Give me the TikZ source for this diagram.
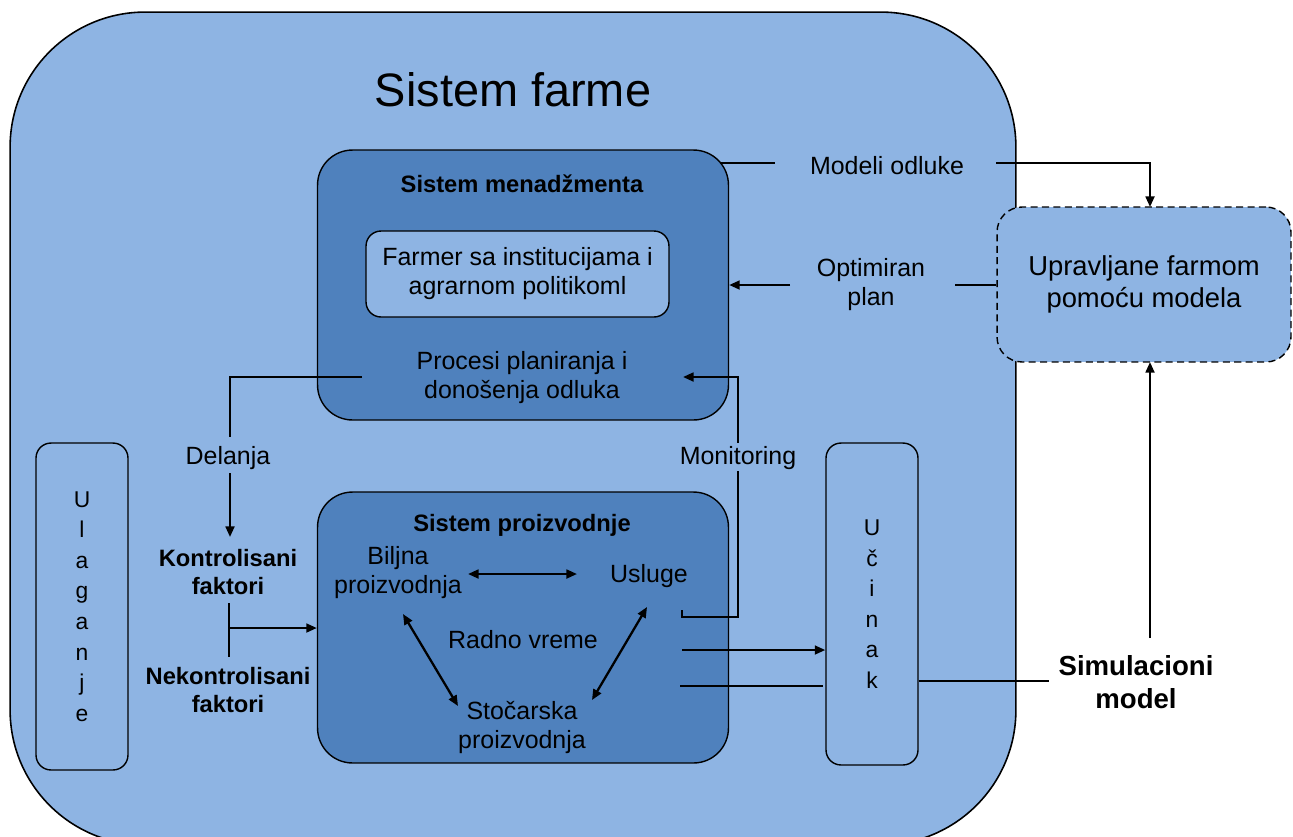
\documentclass[tikz,border=0pt]{standalone}
\usepackage{fontspec}
\setmainfont{Liberation Sans}
\usetikzlibrary{arrows.meta}
\definecolor{lightfill}{HTML}{8EB4E3}
\definecolor{darkfill}{HTML}{4F81BD}
\tikzset{
 outerbox/.style={draw=black, line width=0.9pt, fill=lightfill, rounded corners=2.7cm, minimum width=20.12cm, minimum height=16.66cm, inner sep=0pt},
 darkbox/.style={draw=black, line width=0.8pt, fill=darkfill, rounded corners=0.7cm, minimum width=8.22cm, minimum height=5.42cm, inner sep=0pt},
 lightbox/.style={draw=black, line width=0.8pt, fill=lightfill, rounded corners=0.3cm, inner sep=0pt, align=center},
 dashbox/.style={draw=black, line width=0.8pt, fill=lightfill, rounded corners=0.5cm, dash pattern=on 4pt off 2.5pt, minimum width=5.88cm, minimum height=3.1cm, align=center, inner sep=0pt, font=\fontsize{15.6}{18.2}\selectfont},
 txt/.style={align=center, font=\fontsize{14.2}{16.5}\selectfont, inner sep=0pt},
 btxt/.style={align=center, font=\bfseries\fontsize{13.5}{16.5}\selectfont, inner sep=0pt},
 bigbtxt/.style={align=center, font=\bfseries\fontsize{15.7}{18.8}\selectfont, inner sep=0pt},
 letters/.style={font=\fontsize{13}{17.4}\selectfont},
 conn/.style={line width=1.3pt},
 arr/.style={conn, -{Triangle[length=6pt,width=5pt]}},
 darr/.style={conn, {Triangle[length=6pt,width=5pt]}-{Triangle[length=6pt,width=5pt]}},
}
\begin{document}
\begin{tikzpicture}[x=0.02cm,y=-0.02cm]
\useasboundingbox (0,0) rectangle (1293,836);
\clip (0,0) rectangle (1293,836);
\fill[white] (0,0) rectangle (1293,836);

% outer farm system
\node[outerbox] (farm) at (513,428.5) {};
\node[txt, font=\fontsize{26.7}{30}\selectfont] (farmtitle) at (513,90) {Sistem farme};

% management system
\node[darkbox, minimum height=5.4cm] (mgmt) at (523,285) {};
\node[btxt] (mgmttitle) at (522,184) {Sistem menadžmenta};
\node[lightbox, minimum width=6.06cm, minimum height=1.72cm, font=\fontsize{14.2}{16.5}\selectfont] (farmer) at (517.5,274) {Farmer sa institucijama i\\agrarnom politikoml};
\node[txt] (procesi) at (522,378) {Procesi planiranja i\\donošenja odluka};

% production system
\node[darkbox] (prod) at (523,627.5) {};
\node[btxt] (prodtitle) at (522,525) {Sistem proizvodnje};
\node[txt] (biljna) at (398,573) {Biljna\\proizvodnja};
\node[txt] (usluge) at (649,576) {Usluge};
\node[txt] (radno) at (523,640) {Radno vreme};
\node[txt] (stoc) at (522,727) {Stočarska\\proizvodnja};

% inputs / outputs
\node[lightbox, minimum width=1.84cm, minimum height=6.54cm, letters] (ulag) at (82,606.5) {U\\l\\a\\g\\a\\n\\j\\e};
\node[lightbox, minimum width=1.84cm, minimum height=6.44cm, letters] (ucin) at (872,604) {U\\č\\i\\n\\a\\k};

% labels
\node[txt] (delanja) at (228,458) {Delanja};
\node[btxt] (kontr) at (228,572) {Kontrolisani\\faktori};
\node[btxt] (nekontr) at (228,690) {Nekontrolisani\\faktori};
\node[txt] (monit) at (738,458) {Monitoring};
\node[txt] (modeli) at (887,166) {Modeli odluke};
\node[txt] (optim) at (871,285) {Optimiran\\plan};
\node[bigbtxt] (simul) at (1136,682) {Simulacioni\\model};

% model-based management
\node[dashbox] (dash) at (1144,284.5) {Upravljane farmom\\pomoću modela};

% coordinates for free ends
\coordinate (m1) at (720,163);
\coordinate (m2) at (775,163);
\coordinate (m3) at (996,163);
\coordinate (mtip) at (1150,207);
\coordinate (o1) at (955,285);
\coordinate (o2) at (790,285);
\coordinate (p1) at (362,377);
\coordinate (p2) at (230,437);
\coordinate (p3) at (230,473);
\coordinate (p4) at (230,537);
\coordinate (f1) at (229,603);
\coordinate (f2) at (229,657);
\coordinate (f3) at (229,628);
\coordinate (u0) at (682,610);
\coordinate (u1) at (682,617);
\coordinate (u2) at (738,617);
\coordinate (u3) at (738,471);
\coordinate (u4) at (738,443);
\coordinate (u5) at (738,377);
\coordinate (u6) at (683,377);
\coordinate (r1) at (682,650);
\coordinate (r2) at (680,686);
\coordinate (r3) at (823,686);
\coordinate (s1) at (1049,681);
\coordinate (s2) at (1150,638);
\coordinate (s3) at (1150,362);
\coordinate (b1) at (468,574);
\coordinate (b2) at (577,574);
\coordinate (b3) at (403,614);
\coordinate (b4) at (458,706);
\coordinate (b5) at (647,607);
\coordinate (b6) at (592,700);

% connectors
\draw[conn] (m1) -- (m2);
\draw[arr] (m3) -| (mtip);
\draw[conn] (dash.west |- o1) -- (o1);
\draw[arr] (o2) -- (mgmt.east |- o2);
\draw[conn] (p1) -| (p2);
\draw[arr] (p3) -- (p4);
\draw[conn] (f1) -- (f2);
\draw[arr] (f3) -- (prod.west |- f3);
\draw[conn] (u0) -- (u1) -- (u2) -- (u3);
\draw[arr] (u4) -- (u5) -- (u6);
\draw[arr] (r1) -- (ucin.west |- r1);
\draw[conn] (r2) -- (r3);
\draw[conn] (ucin.east |- s1) -- (s1);
\draw[arr] (s2) -- (s3);
\draw[darr] (b1) -- (b2);
\draw[darr] (b3) -- (b4);
\draw[darr] (b5) -- (b6);
\end{tikzpicture}
\end{document}
